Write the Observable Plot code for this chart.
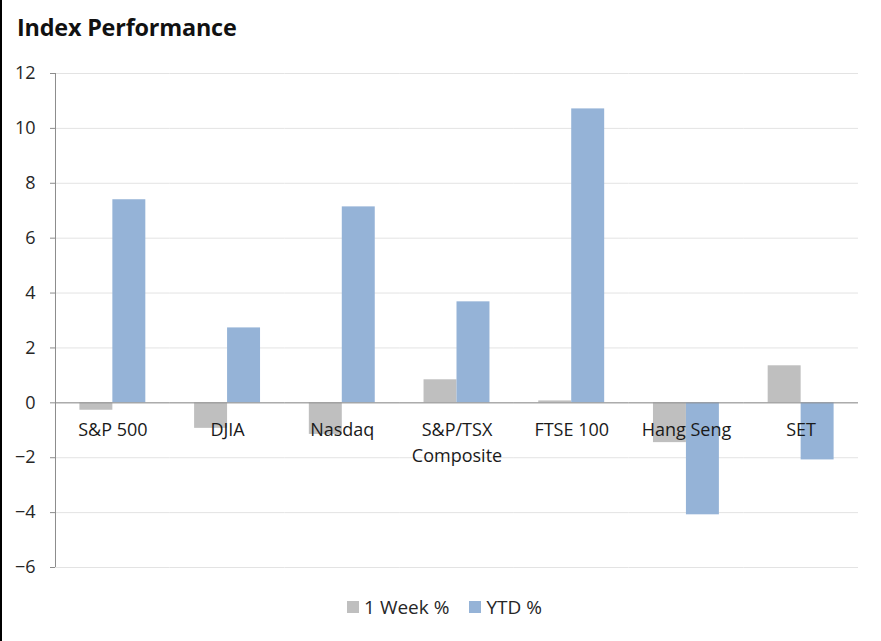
<!DOCTYPE html>
<html>
<head>
<meta charset="utf-8">
<script src="https://cdn.jsdelivr.net/npm/d3@7"></script>
<script src="https://cdn.jsdelivr.net/npm/@observablehq/plot@0.6"></script>
<style>
  html, body { margin: 0; padding: 0; background: #fff; }
  body { width: 881px; height: 641px; position: relative; overflow: hidden; font-family: "Open Sans", sans-serif; }
  #edge { position: absolute; left: 0; top: 0; width: 2px; height: 641px; background: #000; }
  #title { position: absolute; left: 17px; top: 11px; font-size: 23.4px; font-weight: 700; color: #111; letter-spacing: -0.2px; }
  #chart { position: absolute; left: 0; top: 50px; }
  #legend { position: absolute; left: 0; top: 594px; width: 889px; display: flex; justify-content: center; gap: 20px; font-size: 19px; color: #262626; }
  #legend span.item { display: flex; align-items: center; }
  #legend span.sw { display: inline-block; width: 12px; height: 12px; margin-right: 5px; }
</style>
</head>
<body>
<div id="edge"></div>
<div id="title">Index Performance</div>
<div id="chart"></div>
<div id="legend"></div>
<script>
const categories = ["S&P 500", "DJIA", "Nasdaq", "S&P/TSX Composite", "FTSE 100", "Hang Seng", "SET"];
const seriesNames = ["1 Week %", "YTD %"];
const weekValues = [-0.27, -0.93, -1.15, 0.84, 0.07, -1.45, 1.35];
const ytdValues = [7.40, 2.73, 7.14, 3.68, 10.71, -4.08, -2.08];
const seriesColors = ["#bfbfbf", "#95b3d7"];
const yTicks = [-6, -4, -2, 0, 2, 4, 6, 8, 10, 12];

const rows = [];
categories.forEach((c, i) => {
  rows.push({category: c, series: seriesNames[0], value: weekValues[i]});
  rows.push({category: c, series: seriesNames[1], value: ytdValues[i]});
});

const W = 881, H = 535, ML = 55, MR = 23;
const step = (W - ML - MR) / categories.length;

const chart = Plot.plot({
  width: W,
  height: H,
  marginTop: 23,
  marginBottom: 18,
  marginLeft: ML,
  marginRight: MR,
  style: {fontFamily: "Open Sans", fontSize: "18px", color: "#262626", background: "transparent"},
  fx: {domain: categories, padding: 0, round: false, axis: null, label: null},
  x: {domain: seriesNames, paddingInner: 0, paddingOuter: 0.74, round: false, axis: null, label: null},
  y: {domain: [-6, 12], ticks: yTicks, axis: null, label: null},
  color: {domain: seriesNames, range: seriesColors},
  marks: [
    Plot.gridY(yTicks, {stroke: "#e3e3e3", strokeOpacity: 1}),
    Plot.barY(rows, {fx: "category", x: "series", y: "value", fill: "series"}),
    Plot.ruleY([0], {stroke: "#8c8c8c"}),
    Plot.ruleX(categories, {fx: d => d, y1: 0, y2: 0, insetBottom: -6, dx: step / 2, stroke: "#8c8c8c"}),
    Plot.ruleX([0], {x: null, facetAnchor: "left", dx: -step / 2, stroke: "#8c8c8c"}),
    Plot.axisY({ticks: yTicks, tickSize: 5, tickPadding: 15, stroke: "#8c8c8c", fill: "#262626", fontSize: 18, label: null, facetAnchor: "left"}),
    Plot.text(categories, {fx: d => d, y: 0, text: d => d, lineWidth: 6, lineAnchor: "top", dy: 15, fontSize: 18, fill: "#1a1a1a", lineHeight: 1.45})
  ]
});
document.getElementById("chart").appendChild(chart);

const legend = document.getElementById("legend");
seriesNames.forEach((s, i) => {
  const item = document.createElement("span");
  item.className = "item";
  const sw = document.createElement("span");
  sw.className = "sw";
  sw.style.background = seriesColors[i];
  item.appendChild(sw);
  item.appendChild(document.createTextNode(s));
  legend.appendChild(item);
});
</script>
</body>
</html>
